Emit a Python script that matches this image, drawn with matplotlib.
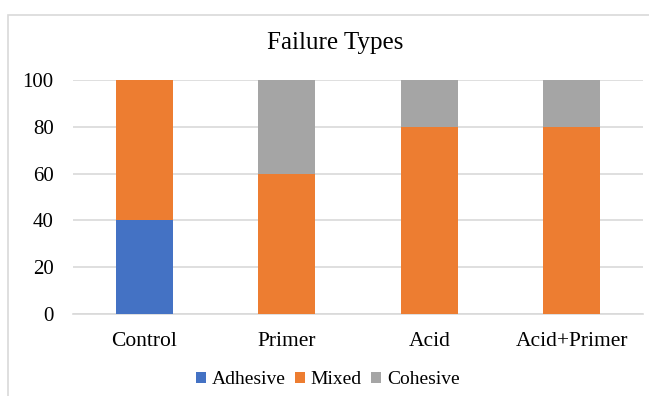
import matplotlib
matplotlib.use("Agg")
import matplotlib.pyplot as plt
from matplotlib.patches import Rectangle
import numpy as np

categories = ["Control", "Primer", "Acid", "Acid+Primer"]
adhesive = [40, 0, 0, 0]
mixed = [60, 60, 80, 80]
cohesive = [0, 40, 20, 20]
yticks = [0, 20, 40, 60, 80, 100]

plt.rcParams['font.family'] = ['Liberation Serif', 'DejaVu Serif']

fig = plt.figure(figsize=(6.49, 3.96), dpi=100)
# chart border
fig.patches.append(Rectangle((8/649, -0.1), 1.2, 1 - 15/396 + 0.1, transform=fig.transFigure,
                             fill=False, edgecolor='#d9d9d9', linewidth=1.2, zorder=0))

ax = fig.add_axes([73/649, 1 - 314/396, 570/649, 234/396])
x = np.arange(len(categories))
w = 0.4
ax.bar(x, adhesive, w, color='#4472C4', label='Adhesive', zorder=3)
ax.bar(x, mixed, w, bottom=adhesive, color='#ED7D31', label='Mixed', zorder=3)
bottom2 = [a + m for a, m in zip(adhesive, mixed)]
ax.bar(x, cohesive, w, bottom=bottom2, color='#A5A5A5', label='Cohesive', zorder=3)

ax.set_xlim(-0.5, len(categories) - 0.5)
ax.set_ylim(0, 100)
ax.set_yticks(yticks)
ax.set_xticks(x)
ax.set_xticklabels(categories, fontsize=15.5)
ax.tick_params(axis='y', labelsize=15, length=0, pad=14)
ax.tick_params(axis='x', length=0, pad=13)
ax.yaxis.grid(True, color='#d9d9d9', linewidth=1.2, zorder=0)
for s in ['top', 'right', 'left']:
    ax.spines[s].set_visible(False)
ax.spines['bottom'].set_color('#d9d9d9')
ax.spines['bottom'].set_linewidth(1.2)

fig.text(0.516, 1 - 43/396, "Failure Types", ha='center', va='center', fontsize=18)

fig.legend(loc='center', bbox_to_anchor=(0.505, 1 - 380/396), ncol=3, frameon=False,
           fontsize=14, handlelength=0.5, handleheight=0.5, handletextpad=0.3,
           columnspacing=0.5)

fig.savefig("out.png", dpi=100)
